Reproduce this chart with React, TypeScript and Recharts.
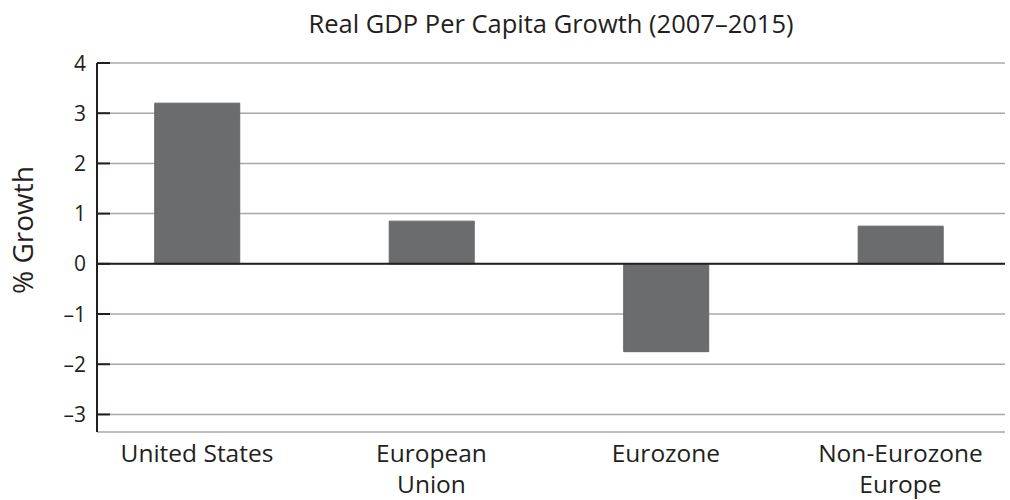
import { BarChart, Bar, XAxis, YAxis, CartesianGrid, ReferenceLine } from 'recharts';

const categories = ['United States', 'European Union', 'Eurozone', 'Non-Eurozone Europe'];
const tickLabels = [['United States'], ['European', 'Union'], ['Eurozone'], ['Non-Eurozone', 'Europe']];
const growth = [3.2, 0.85, -1.75, 0.75];
const yTicks = [-3, -2, -1, 0, 1, 2, 3, 4];

const data = categories.map((name, i) => ({ idx: i, name, growth: growth[i] }));

const FONT = '"Open Sans", sans-serif';
const INK = '#231f20';

function YTick({ x, y, payload }: any) {
  const v = payload.value;
  return (
    <g>
      <line x1={x + 10} x2={x + 23} y1={y} y2={y} stroke={INK} strokeWidth={2} />
      <text x={x - 1} y={y} dy={7.5} textAnchor="end" fill={INK} fontSize={21} fontWeight={500} fontFamily={FONT}>
        {v < 0 ? '–' + Math.abs(v) : String(v)}
      </text>
    </g>
  );
}

function XTick({ x, y, payload }: any) {
  const lines = tickLabels[payload.value] || [];
  return (
    <text x={x} y={y} textAnchor="middle" fill={INK} fontSize={24.5} fontWeight={500} fontFamily={FONT}>
      {lines.map((l, i) => (
        <tspan key={i} x={x} dy={i === 0 ? 30 : 31}>
          {l}
        </tspan>
      ))}
    </text>
  );
}

export default function App() {
  return (
    <div style={{ position: 'fixed', left: 0, top: 0, width: 1010, height: 500, background: '#fff' }}>
      <BarChart width={1010} height={500} data={data} margin={{ top: 63, right: 5, bottom: 0, left: 37 }}>
        <CartesianGrid vertical={false} stroke="#a8a8a8" strokeWidth={1.5} />
        <XAxis
          type="number"
          dataKey="idx"
          domain={[-0.4264, 3.446]}
          ticks={[0, 1, 2, 3]}
          allowDataOverflow
          axisLine={false}
          tickLine={false}
          tickSize={0}
          tickMargin={0}
          height={68}
          tick={XTick}
        />
        <YAxis
          type="number"
          domain={[-3.35, 4]}
          ticks={yTicks}
          allowDataOverflow
          width={60}
          tickSize={0}
          tickMargin={10}
          tickLine={false}
          axisLine={{ stroke: INK, strokeWidth: 2 }}
          tick={YTick}
        />
        <ReferenceLine y={0} stroke={INK} strokeWidth={2} />
        <Bar dataKey="growth" fill="#6b6c6e" stroke="#646567" strokeWidth={1} barSize={85} isAnimationActive={false} />
      </BarChart>
      <svg width={1010} height={500} style={{ position: 'absolute', left: 0, top: 0, pointerEvents: 'none' }}>
        <text x={551} y={33} textAnchor="middle" fill={INK} fontSize={25.5} fontWeight={500} fontFamily={FONT}>
          Real GDP Per Capita Growth (2007–2015)
        </text>
        <text x={33} y={230} transform="rotate(-90 33 230)" textAnchor="middle" fill={INK} fontSize={28} fontWeight={500} fontFamily={FONT}>
          % Growth
        </text>
      </svg>
    </div>
  );
}
